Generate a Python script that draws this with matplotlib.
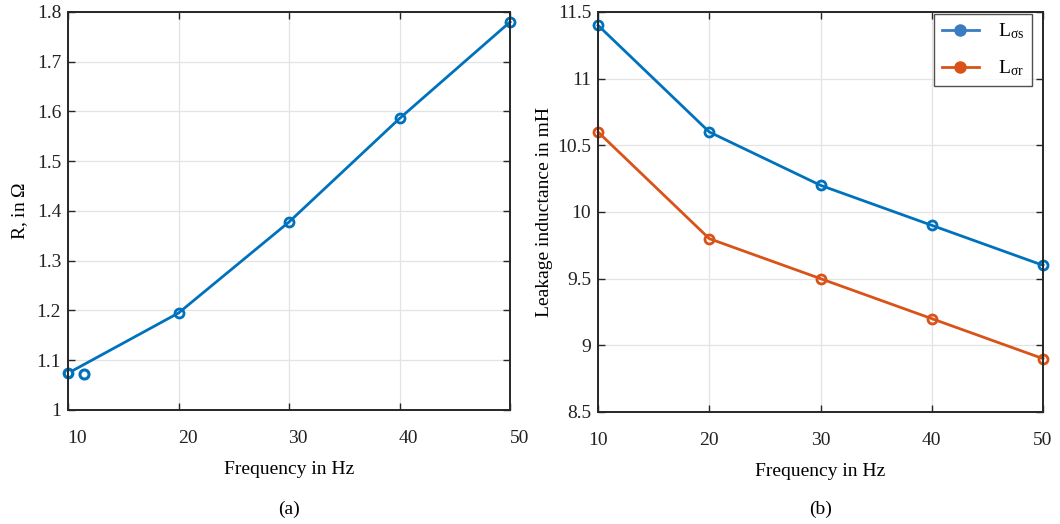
import numpy as np
import matplotlib.pyplot as plt
import matplotlib.transforms as mtransforms

# data
freq = [10, 20, 30, 40, 50]
r_vals = [1.074, 1.195, 1.378, 1.586, 1.78]
r_extra_f = [11.4]
r_extra_v = [1.073]

l_s = [11.4, 10.6, 10.2, 9.9, 9.6]
l_r = [10.6, 9.8, 9.5, 9.2, 8.9]

blue = '#0072BD'
orange = '#D95319'
grid_c = '#e3e3e3'
dark = '#262626'

plt.rcParams.update({'font.family': 'Liberation Serif', 'font.size': 14,
                     'mathtext.fontset': 'custom', 'mathtext.rm': 'Liberation Serif',
                     'mathtext.it': 'Liberation Serif'})

fig = plt.figure(figsize=(10.6, 5.24), dpi=100)
ax1 = fig.add_axes([0.0642, 0.2176, 0.417, 0.7595])
ax2 = fig.add_axes([0.5642, 0.2138, 0.4198, 0.7633])


def style(ax):
    ax.grid(True, color=grid_c, linewidth=0.9)
    ax.set_axisbelow(True)
    for s in ax.spines.values():
        s.set_linewidth(1.4)
        s.set_color(dark)
    ax.tick_params(direction='in', top=True, right=True, length=5, width=1.0,
                   colors=dark, labelcolor='#222222')
    ax.tick_params(axis='x', pad=14.5)
    ax.tick_params(axis='y', pad=5)
    ax.set_xlabel('Frequency in Hz', labelpad=10)


############## (a) resistance
ax1.plot(freq, r_vals, color=blue, linewidth=2.0, marker='o', markersize=6.5,
         markerfacecolor='none', markeredgewidth=2.0, clip_on=False)
ax1.plot(freq[:1], r_vals[:1], color=blue, linestyle='none', marker='o', markersize=5,
         markerfacecolor='white', markeredgewidth=1.2, clip_on=False)
ax1.plot(r_extra_f, r_extra_v, color=blue, linestyle='none', marker='o', markersize=6.5,
         markerfacecolor='none', markeredgewidth=2.2)
ax1.set_xlim(10, 50)
ax1.set_ylim(1.0, 1.8)
ax1.set_xticks([10, 20, 30, 40, 50])
ax1.set_yticks(np.arange(1.0, 1.81, 0.1))
ax1.set_yticklabels(['1', '1.1', '1.2', '1.3', '1.4', '1.5', '1.6', '1.7', '1.8'])
ax1.set_ylabel(r'R, in $\Omega$', labelpad=5)
style(ax1)
# tick labels sit a little right of their ticks in the reference
shift = mtransforms.ScaledTranslation(9 / 100, 0, fig.dpi_scale_trans)
for lab in ax1.get_xticklabels():
    lab.set_transform(lab.get_transform() + shift)
ax1.text(0.5, -0.25, '(a)', transform=ax1.transAxes, ha='center', va='center')

############## (b) leakage inductance
ax2.plot(freq, l_s, color=blue, linewidth=2.0, marker='o', markersize=6.5,
         markerfacecolor='none', markeredgewidth=2.0, clip_on=False)
ax2.plot(freq, l_r, color=orange, linewidth=2.0, marker='o', markersize=6.5,
         markerfacecolor='none', markeredgewidth=2.0, clip_on=False)
ax2.set_xlim(10, 50)
ax2.set_ylim(8.5, 11.5)
ax2.set_xticks([10, 20, 30, 40, 50])
ax2.set_yticks([8.5, 9, 9.5, 10, 10.5, 11, 11.5])
ax2.set_yticklabels(['8.5', '9', '9.5', '10', '10.5', '11', '11.5'])
ax2.set_ylabel('Leakage inductance in mH', labelpad=3)
style(ax2)

h1, = ax2.plot([], [], color='#3a7cc0', linewidth=2.0, marker='o', markersize=8)
h2, = ax2.plot([], [], color=orange, linewidth=2.0, marker='o', markersize=8)
leg = ax2.legend([h1, h2], [r'L$_{\sigma\mathrm{s}}$', r'L$_{\sigma\mathrm{r}}$'],
                 loc='upper right', bbox_to_anchor=(0.976, 0.996), fancybox=False,
                 edgecolor=dark, handlelength=1.9, borderpad=0.4, labelspacing=0.9,
                 handletextpad=1.0, borderaxespad=0.0, fontsize=14)
leg.get_frame().set_linewidth(1.0)
ax2.text(0.5, -0.2425, '(b)', transform=ax2.transAxes, ha='center', va='center')

plt.savefig('out.png', dpi=100)
